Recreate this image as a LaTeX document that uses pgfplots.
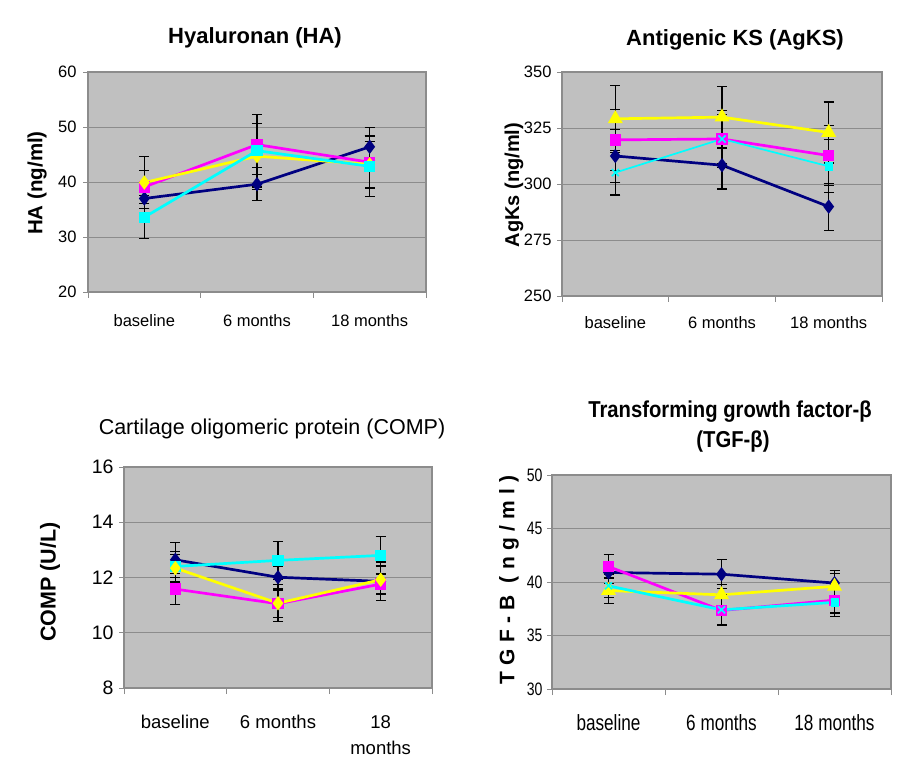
\documentclass[border=0pt]{standalone}
\usepackage{pgfplots}
\pgfplotsset{compat=1.18}
\usepackage{fontspec}
\setmainfont{Liberation Sans}
\newfontfamily\narrowfont[FakeStretch=0.78]{Liberation Sans}
\newfontfamily\narrowtitle[FakeStretch=0.88]{Liberation Sans}
\newfontfamily\spacedfont[LetterSpace=30]{Liberation Sans}
\definecolor{navy}{HTML}{000080}
\definecolor{mag}{HTML}{FF00FF}
\definecolor{yel}{HTML}{FFFF00}
\definecolor{cya}{HTML}{00FFFF}
\definecolor{plotbg}{HTML}{C0C0C0}
\definecolor{gridc}{HTML}{8C8C8C}
\pgfplotsset{
  panel/.style={
    anchor=south west, scale only axis,
    xmin=0.5, xmax=3.5, xtick={1,2,3},
    minor xtick={0.5,1.5,2.5,3.5},
    xtick pos=lower, ytick pos=left,
    major x tick style={draw=none},
    minor x tick style={draw=gridc, line width=0.8pt},
    major y tick style={draw=gridc, line width=0.8pt},
    tick align=outside,
    major tick length=5pt, minor tick length=6pt,
    axis background/.style={fill=plotbg},
    ymajorgrids, grid style={gridc, line width=0.9pt},
    axis line style={draw=gridc, line width=1.2pt},
    /pgf/number format/assume math mode=true,
    clip=false,
  },
  ser/.style={color=#1, line width=2.7pt, mark options={solid, fill=#1, draw=#1},
    error bars/y dir=both, error bars/y explicit,
    error bars/error bar style={black, line width=1.2pt},
    error bars/error mark options={rotate=90, black, mark size=5pt, line width=1.2pt}},
}
\begin{document}
\begin{tikzpicture}[x=1pt,y=1pt]
\path[use as bounding box] (0,0) rectangle (912,772);

% ---------- Panel 1: HA ----------
\begin{axis}[panel, at={(88pt,480pt)}, width=338pt, height=220pt,
  ymin=20, ymax=60, ytick={20,30,40,50,60},
  xticklabels={baseline,6 months,18 months},
  yticklabel style={font=\fontsize{16.5}{18}\selectfont, xshift=-3pt},
  xticklabel style={font=\fontsize{16.5}{18}\selectfont, yshift=-14pt}]
\addplot[ser=navy, mark=diamond*, mark size=5pt] table[x=x,y=y,y error=e]{
x y e
1 37.0 1.8
2 39.6 3.0
3 46.4 3.5
};
\addplot[ser=mag, mark=square*, mark size=4.3pt] table[x=x,y=y,y error=e]{
x y e
1 39.1 3.0
2 46.8 5.4
3 43.6 4.8
};
\addplot[ser=yel, mark=diamond*, mark size=5pt] table[x=x,y=y,y error=e]{
x y e
1 39.9 4.7
2 44.7 6.0
3 43.2 4.2
};
\addplot[ser=cya, mark=square*, mark size=4.3pt] table[x=x,y=y,y error=e]{
x y e
1 33.6 3.9
2 45.7 6.6
3 42.85 5.5
};
\end{axis}
\node[font=\bfseries\fontsize{22}{24}\selectfont] at (255,734) {Hyaluronan (HA)};
\node[rotate=90, font=\bfseries\fontsize{20.5}{22}\selectfont] at (37,589) {HA (ng/ml)};

% ---------- Panel 2: AgKS ----------
\begin{axis}[panel, at={(562pt,476pt)}, width=320pt, height=224pt,
  ymin=250, ymax=350, ytick={250,275,300,325,350},
  xticklabels={baseline,6 months,18 months},
  yticklabel style={font=\fontsize{16.5}{18}\selectfont, xshift=-2pt},
  xticklabel style={font=\fontsize{16.5}{18}\selectfont, yshift=-12pt}]
\addplot[ser=navy, mark=diamond*, mark size=5pt] table[x=x,y=y,y error=e]{
x y e
1 312.5 11.7
2 308.4 10.6
3 289.9 10.5
};
\addplot[ser=mag, mark=square*, mark size=4.3pt] table[x=x,y=y,y error=e]{
x y e
1 319.7 13.7
2 320.1 12.7
3 312.7 13.4
};
\addplot[ser=yel, mark=triangle*, mark size=6pt] table[x=x,y=y,y error=e]{
x y e
1 329.1 15.0
2 329.85 13.8
3 323.0 13.6
};
\addplot[ser=cya, line width=1.7pt, mark=x, mark size=5pt, mark options={line width=1.6pt}] table[x=x,y=y,y error=e]{
x y e
1 305.1 10.0
2 320.1 10.8
3 307.9 11.8
};
\addplot[only marks, color=cya, mark=square*, mark size=3.8pt] coordinates {(3,307.9)};
\end{axis}
\node[font=\bfseries\fontsize{22}{24}\selectfont] at (735,732) {Antigenic KS (AgKS)};
\node[rotate=90, font=\bfseries\fontsize{20}{22}\selectfont] at (514,587) {AgKs (ng/ml)};

% ---------- Panel 3: COMP ----------
\begin{axis}[panel, at={(124pt,84pt)}, width=308pt, height=221pt,
  ymin=8, ymax=16, ytick={8,10,12,14,16},
  xticklabels={baseline,6 months,{18\\months}},
  yticklabel style={font=\fontsize{19.5}{21}\selectfont, xshift=-2pt},
  xticklabel style={font=\fontsize{18.5}{26}\selectfont, yshift=-19pt, align=center}]
\addplot[ser=navy, mark=diamond*, mark size=5pt] table[x=x,y=y,y error=e]{
x y e
1 12.64 0.63
2 12.01 0.40
3 11.86 0.70
};
\addplot[ser=mag, mark=square*, mark size=4.3pt] table[x=x,y=y,y error=e]{
x y e
1 11.58 0.56
2 11.05 0.50
3 11.76 0.37
};
\addplot[ser=cya, mark=square*, mark size=4.3pt] table[x=x,y=y,y error=e]{
x y e
1 12.40 0.54
2 12.62 0.68
3 12.80 0.69
};
\addplot[ser=yel, mark=diamond*, mark size=5pt] table[x=x,y=y,y error=e]{
x y e
1 12.34 0.50
2 11.07 0.67
3 11.92 0.50
};
\end{axis}
\node[font=\fontsize{21.5}{24}\selectfont] at (272,343) {Cartilage oligomeric protein (COMP)};
\node[rotate=90, font=\bfseries\fontsize{21.5}{24}\selectfont] at (50,190) {COMP (U/L)};

% ---------- Panel 4: TGF ----------
\begin{axis}[panel, at={(552pt,83pt)}, width=339pt, height=214pt,
  ymin=30, ymax=50, ytick={30,35,40,45,50},
  xticklabels={baseline,6 months,18 months},
  yticklabel style={font=\narrowfont\fontsize{18}{20}\selectfont, xshift=-1pt},
  xticklabel style={font=\narrowfont\fontsize{22}{24}\selectfont, yshift=-17pt}]
\addplot[ser=navy, mark=diamond*, mark size=5pt] table[x=x,y=y,y error=e]{
x y e
1 40.89 1.00
2 40.73 1.34
3 39.90 1.14
};
\addplot[ser=mag, mark=square*, mark size=4.3pt] table[x=x,y=y,y error=e]{
x y e
1 41.45 1.15
2 37.34 1.30
3 38.30 1.20
};
\addplot[ser=yel, mark=triangle*, mark size=6pt] table[x=x,y=y,y error=e]{
x y e
1 39.20 1.20
2 38.80 1.00
3 39.60 1.16
};
\addplot[ser=cya, mark=x, mark size=5pt, mark options={line width=1.6pt}] table[x=x,y=y,y error=e]{
x y e
1 39.64 1.10
2 37.40 1.45
3 38.10 1.30
};
\addplot[only marks, color=cya, mark=square*, mark size=3.8pt] coordinates {(3,38.1)};
\end{axis}
\node[font=\narrowtitle\bfseries\fontsize{23}{26}\selectfont] at (730,360) {Transforming growth factor-β};
\node[font=\narrowtitle\bfseries\fontsize{23}{26}\selectfont] at (733,330) {(TGF-β)};
\node[rotate=90, font=\spacedfont\bfseries\fontsize{21}{24}\selectfont] at (509,192) {TGF-B (ng/ml)};
\end{tikzpicture}
\end{document}
